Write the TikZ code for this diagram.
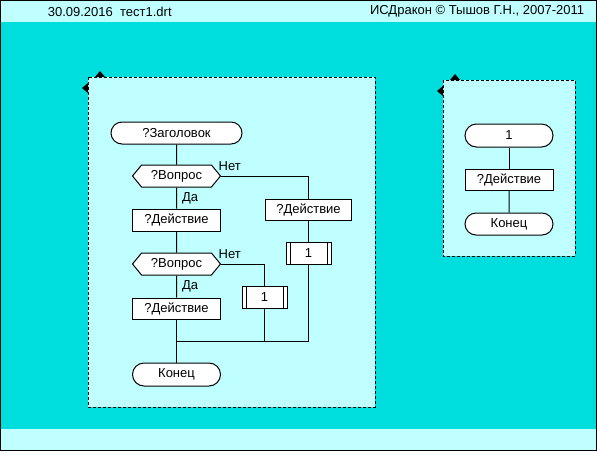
\documentclass[tikz,border=0pt]{standalone}
\usepackage{fontspec}
\setmainfont{Liberation Sans}
\usetikzlibrary{shapes.misc,shapes.symbols}
\definecolor{dback}{HTML}{00DDDD}
\definecolor{dpanel}{HTML}{C0FFFF}
\begin{document}
\begin{tikzpicture}[x=1pt, y=-1pt, line width=1pt, font=\fontsize{13}{15}\selectfont,
        box/.style={draw, fill=white, rectangle, inner sep=0pt, minimum width=88pt, minimum height=22pt},
        term/.style={draw, fill=white, rounded rectangle, inner sep=0pt, minimum width=88pt, minimum height=22pt},
        quest/.style={draw, fill=white, signal, signal to=west and east, signal pointer angle=101,
            inner sep=0pt, minimum width=88pt, minimum height=22pt},
        insert/.style={box, minimum width=45pt, path picture={
            \draw ([xshift=4pt]path picture bounding box.north west) -- ([xshift=4pt]path picture bounding box.south west);
            \draw ([xshift=-4pt]path picture bounding box.north east) -- ([xshift=-4pt]path picture bounding box.south east);}},
        yes/.style={right, inner sep=5pt},
        no/.style={anchor=south west, inner sep=0pt, xshift=-3pt, yshift=5pt}]
        \useasboundingbox (0,0) rectangle (597,451);
        % background and bands
        \fill[dback]  (0,0)   rectangle (597,451);
        \fill[dpanel] (0,0)   rectangle (597,22);
        \fill[dpanel] (0,429) rectangle (597,451);
        \draw (0.5,0.5) rectangle (596.5,450.5);
        \node[anchor=west] (date) at (44,11.5)  {30.09.2016\ \ тест1.drt};
        \node[anchor=east] (copy) at (588,11.5) {ИСДракон © Тышов Г.Н., 2007-2011};

        % icon panels
        \foreach \xa/\ya/\xb/\yb in {88/77/375/407, 443/80/575/256} {
            \fill[dpanel] (\xa,\ya) rectangle (\xb,\yb);
            \draw[dash pattern=on 3pt off 2pt] (\xa,\ya) rectangle (\xb,\yb);
            \fill (\xa+7,\ya) -- (\xa+12,\ya-6) -- (\xa+17,\ya) -- cycle;
            \fill (\xa,\ya+6) -- (\xa-6,\ya+11) -- (\xa,\ya+16) -- cycle;
        }

        % first diagram
        \node[term, minimum width=131pt] (title) at (176.5,133) {?Заголовок};
        \node[quest] (q1) at (176.5,176)   {?Вопрос};
        \node[box]   (a1) at (176.5,220)   {?Действие};
        \node[quest] (q2) at (176.5,264)   {?Вопрос};
        \node[box, minimum height=21pt] (a3) at (176.5,308.5) {?Действие};
        \node[term, minimum height=23pt] (fin) at (176.5,374.5) {Конец};
        \node[box, minimum width=86pt, minimum height=21pt] (a2) at (308.5,210) {?Действие};
        \node[insert] (i1) at (308.5,253) {1};
        \node[insert] (i2) at (264.5,297) {1};
        \coordinate (m) at (176.5,341);

        \draw (title) -- (q1);
        \draw (q1) -- node[yes] {Да} (a1);
        \draw (a1) -- (q2);
        \draw (q2) -- node[yes] {Да} (a3);
        \draw (a3) -- (fin);
        \draw (q1.east) node[no] {Нет} -| (a2.north);
        \draw (a2) -- (i1);
        \draw (q2.east) node[no] {Нет} -| (i2.north);
        \draw (i2) |- (m);
        \draw (i1) |- (m);

        % second diagram
        \node[term, minimum height=23pt] (s1) at (509,135.5) {1};
        \node[box, minimum height=21pt] (sa) at (509,179.5) {?Действие};
        \node[term] (sfin) at (509,224) {Конец};
        \draw (s1) -- (sa);
        \draw (sa) -- (sfin);
    \end{tikzpicture}
\end{document}
